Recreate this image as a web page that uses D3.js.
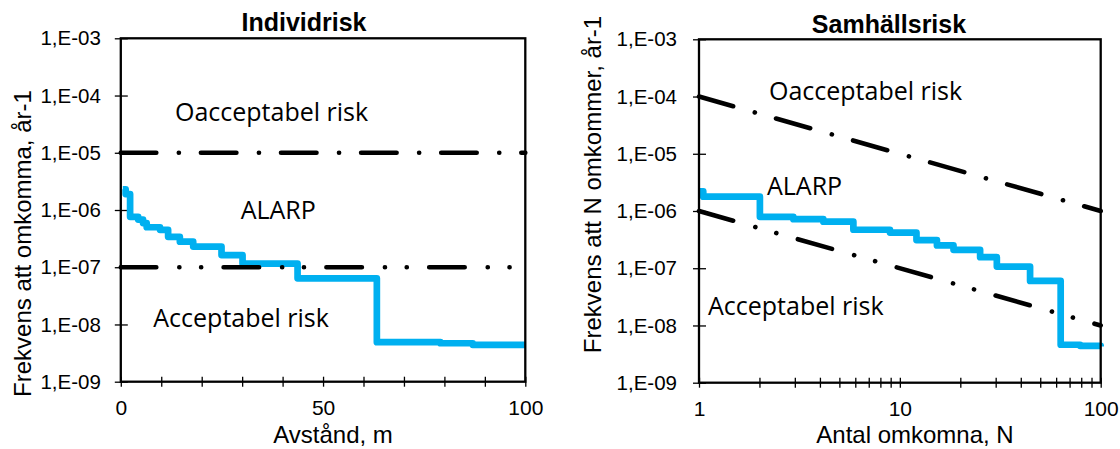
<!DOCTYPE html>
<html>
<head>
<meta charset="utf-8">
<script src="https://cdn.jsdelivr.net/npm/d3@7"></script>
<style>
  body { margin: 0; background: #fff; }
</style>
</head>
<body>
<svg id="chart" width="1120" height="449"></svg>
<script>
// Individrisk - avstånd (m) och frekvens per år (trappstegskurva)
const irDist = [0.5, 1.2, 2.3, 4.3, 5.5, 6.4, 9.7, 11.7, 14.6, 17.9, 24.9, 30.1, 43.7, 63.3, 79, 87, 100];
const irFreq = [2.3e-6, 1.9e-6, 7.6e-7, 6.8e-7, 5.9e-7, 5.0e-7, 4.5e-7, 3.4e-7, 2.8e-7, 2.3e-7, 1.63e-7, 1.16e-7, 6.4e-8, 4.9e-9, 4.7e-9, 4.4e-9, 4.4e-9];

// Samhällsrisk - antal omkomna N och frekvens per år
const srN = [1, 1.05, 2.01, 2.95, 4.16, 5.87, 8.93, 12.1, 15.3, 18.5, 25.1, 30.4, 44.5, 63.2, 79, 100];
const srFreq = [2.2e-6, 1.78e-6, 7.9e-7, 7.2e-7, 6.5e-7, 4.7e-7, 4.2e-7, 3.1e-7, 2.5e-7, 2.1e-7, 1.56e-7, 1.07e-7, 6.0e-8, 4.6e-9, 4.4e-9, 4.3e-9];

// Acceptanskriterier
const irCritX = [0, 100];
const irUpper = [1e-5, 1e-5];
const irLower = [1e-7, 1e-7];
const srCritN = [1, 100];
const srUpper = [1e-4, 1e-6];
const srLower = [1e-6, 1e-8];

// Axlar
const yTicks = [1e-9, 1e-8, 1e-7, 1e-6, 1e-5, 1e-4, 1e-3];
const yTickLabels = ["1,E-09", "1,E-08", "1,E-07", "1,E-06", "1,E-05", "1,E-04", "1,E-03"];
const irXTicks = [0, 50, 100];
const srXTicks = [1, 10, 100];

const AXFONT = "'Liberation Sans', Arial, sans-serif";
const TXFONT = "'Open Sans', 'Noto Sans', sans-serif";
const BLUE = "#00B0F0";
const DASH_DOT = "35.5,22.5,0.1,22";
const DASH_DOT_DOT = "35.5,23,0.1,21.7,0.1,22.4";

const svg = d3.select("#chart");
svg.append("rect").attr("width", 1120).attr("height", 449).attr("fill", "#fff");

function AddYAxis(svg, yScale, x0, padding) {
    const g = svg.append("g")
        .attr("transform", `translate(${x0},0)`)
        .call(d3.axisLeft(yScale)
            .tickValues(yTicks)
            .tickFormat((d, i) => yTickLabels[i])
            .tickSizeInner(6)
            .tickSizeOuter(0)
            .tickPadding(padding))
        .attr("font-family", AXFONT)
        .attr("font-size", 20.5);
    g.select(".domain").remove();
    g.selectAll(".tick line").attr("x1", 7).attr("x2", -6).attr("stroke-width", 1.3);
    g.selectAll(".tick text").attr("fill", "#000");
    return g;
}

function AddXAxis(svg, xScale, y0, ticks, labels) {
    const g = svg.append("g")
        .attr("transform", `translate(0,${y0})`)
        .call(d3.axisBottom(xScale)
            .tickValues(ticks)
            .tickFormat(d => labels.some(l => Math.abs(l - d) < 1e-6) ? d3.format("d")(d) : "")
            .tickSizeInner(6)
            .tickSizeOuter(0)
            .tickPadding(12))
        .attr("font-family", AXFONT)
        .attr("font-size", 21);
    g.select(".domain").remove();
    g.selectAll(".tick line").attr("y1", -5).attr("y2", 5).attr("stroke-width", 1.3);
    g.selectAll(".tick text").attr("fill", "#000");
    return g;
}

function AddFrame(svg, xScale, yScale) {
    const [x0, x1] = xScale.range();
    const [y1, y0] = yScale.range();
    svg.append("rect")
        .attr("x", x0)
        .attr("y", y0)
        .attr("width", x1 - x0)
        .attr("height", y1 - y0)
        .attr("fill", "none")
        .attr("stroke", "#000")
        .attr("stroke-width", 2.3);
}

function AddLine(svg, xs, ys, xScale, yScale, curve, color, width, dash) {
    const line = d3.line()
        .curve(curve)
        .x(i => xScale(xs[i]))
        .y(i => yScale(ys[i]));
    return svg.append("path")
        .attr("fill", "none")
        .attr("stroke", color)
        .attr("stroke-width", width)
        .attr("stroke-linejoin", "round")
        .attr("stroke-linecap", dash ? "round" : "butt")
        .attr("stroke-dasharray", dash)
        .attr("d", line(d3.range(xs.length)));
}

function AddText(svg, text, x, y, opts = {}) {
    return svg.append("text")
        .attr("x", x)
        .attr("y", y)
        .attr("font-family", opts.family || TXFONT)
        .attr("font-size", opts.size || 25)
        .attr("font-weight", opts.weight || "normal")
        .attr("text-anchor", opts.anchor || "start")
        .attr("fill", "#000")
        .text(text);
}

function AddYTitle(svg, text, x, y) {
    svg.append("text")
        .attr("transform", `translate(${x},${y}) rotate(-90)`)
        .attr("text-anchor", "middle")
        .attr("font-family", AXFONT)
        .attr("font-size", 24)
        .attr("fill", "#000")
        .text(text);
}

// ---- Individrisk ----
const irX = d3.scaleLinear().domain([0, 100]).range([120.8, 525.3]);
const irY = d3.scaleLog().domain([1e-9, 1e-3]).range([381.7, 38.3]);

AddYAxis(svg, irY, 120.8, 14);
AddXAxis(svg, irX, 381.7, d3.range(0, 101, 10), irXTicks);
AddLine(svg, irDist, irFreq, irX, irY, d3.curveStepAfter, BLUE, 6.7);
AddLine(svg, irCritX, irUpper, irX, irY, d3.curveLinear, "#000", 4.6, DASH_DOT);
AddLine(svg, irCritX, irLower, irX, irY, d3.curveLinear, "#000", 4.6, DASH_DOT_DOT);
AddFrame(svg, irX, irY);

AddText(svg, "Individrisk", 304, 31, {family: AXFONT, size: 25, weight: "bold", anchor: "middle"});
AddText(svg, "Oacceptabel risk", 175, 120.5);
AddText(svg, "ALARP", 240.7, 219.3);
AddText(svg, "Acceptabel risk", 153.3, 326.7);
AddYTitle(svg, "Frekvens att omkomma, år-1", 31, 243.5);
AddText(svg, "Avstånd, m", 333, 443, {family: AXFONT, size: 24, anchor: "middle"});

// ---- Samhällsrisk ----
const srX = d3.scaleLog().domain([1, 100]).range([699, 1100.7]);
const srY = d3.scaleLog().domain([1e-9, 1e-3]).range([382.7, 39.3]);

AddYAxis(svg, srY, 699, 16);
AddXAxis(svg, srX, 382.7, srX.ticks(), srXTicks);
AddLine(svg, srN, srFreq, srX, srY, d3.curveStepAfter, BLUE, 6.7);
AddLine(svg, srCritN, srUpper, srX, srY, d3.curveLinear, "#000", 4.6, DASH_DOT);
AddLine(svg, srCritN, srLower, srX, srY, d3.curveLinear, "#000", 4.6, DASH_DOT_DOT);
AddFrame(svg, srX, srY);

AddText(svg, "Samhällsrisk", 889, 32.5, {family: AXFONT, size: 25, weight: "bold", anchor: "middle"});
AddText(svg, "Oacceptabel risk", 769, 100);
AddText(svg, "ALARP", 767, 195);
AddText(svg, "Acceptabel risk", 708, 315);
AddYTitle(svg, "Frekvens att N omkommer, år-1", 601, 184.5);
AddText(svg, "Antal omkomna, N", 915, 443, {family: AXFONT, size: 24, anchor: "middle"});
</script>
</body>
</html>
